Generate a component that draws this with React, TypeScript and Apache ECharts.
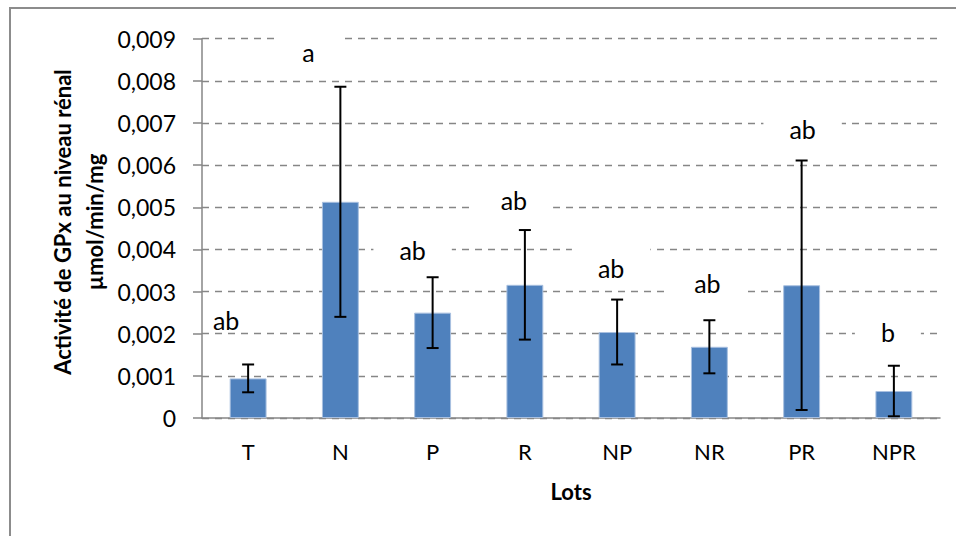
import React, { useEffect, useRef } from "react";
import * as echarts from "echarts";

const categories = ["T", "N", "P", "R", "NP", "NR", "PR", "NPR"];
const means = [0.00094, 0.00513, 0.0025, 0.00316, 0.00204, 0.00169, 0.00315, 0.00064];
const errors = [0.00033, 0.00273, 0.00084, 0.0013, 0.00077, 0.00063, 0.00296, 0.0006];
const letters = ["ab", "a", "ab", "ab", "ab", "ab", "ab", "b"];
const letterValues = [0.00232, 0.00868, 0.00399, 0.00517, 0.00356, 0.0032, 0.00686, 0.00204];

const yMin = 0;
const yMax = 0.009;
const yInterval = 0.001;

// layout tweaks for the letter annotations (pixel offsets from category centre)
const letterDx = [-22, -32, -20, -11, -6, -2, 1, -6];

const FONT = "Lato, 'Open Sans', sans-serif";

export default function App() {
  const ref = useRef<HTMLDivElement>(null);
  useEffect(() => {
    document.body.style.margin = "0";
    const chart = echarts.init(ref.current!, null, { renderer: "svg" });
    const option: any = {
      animation: false,
      backgroundColor: "#ffffff",
      textStyle: { fontFamily: FONT },
      grid: { left: 202, right: 16, top: 38.7, bottom: 118, containLabel: false },
      graphic: [
        {
          type: "rect",
          silent: true,
          z: -10,
          shape: { x: 10, y: 8, width: 1000, height: 600 },
          style: { fill: "none", stroke: "#8c8c8c", lineWidth: 2 },
        },
        {
          type: "text",
          silent: true,
          x: 78,
          y: 222,
          rotation: Math.PI / 2,
          style: {
            text: "Activité de GPx au niveau rénal\nµmol/min/mg",
            font: `bold 22px ${FONT}`,
            fill: "#000",
            align: "center",
            verticalAlign: "middle",
            lineHeight: 32,
          },
        },
      ],
      xAxis: {
        type: "category",
        data: categories,
        name: "Lots",
        nameLocation: "middle",
        nameGap: 62,
        nameTextStyle: { fontFamily: FONT, fontSize: 22, fontWeight: "bold", color: "#000" },
        axisLine: { show: true, lineStyle: { color: "#868686", width: 1.5 } },
        axisTick: { show: false },
        axisLabel: { fontFamily: FONT, fontSize: 22, color: "#000", margin: 22 },
        splitLine: { show: false },
      },
      yAxis: {
        type: "value",
        min: yMin,
        max: yMax,
        interval: yInterval,
        axisLine: { show: true, lineStyle: { color: "#868686", width: 1.5 } },
        axisTick: { show: true, inside: false, length: 9, lineStyle: { color: "#868686", width: 1.5 } },
        axisLabel: {
          fontFamily: FONT,
          fontSize: 23,
          color: "#000",
          margin: 26,
          formatter: (v: number) => (v === 0 ? "0" : v.toFixed(3).replace(".", ",")),
        },
        splitLine: {
          show: true,
          lineStyle: { color: "#868686", width: 1.4, type: [7, 6] },
        },
      },
      series: [
        {
          type: "bar",
          data: means,
          barWidth: "40%",
          itemStyle: { color: "#4F81BD", borderColor: "#a9c0e0", borderWidth: 1 },
          z: 2,
        },
        {
          type: "scatter",
          symbolSize: 1,
          itemStyle: { opacity: 0 },
          z: 3,
          label: {
            show: true,
            position: "inside",
            formatter: (p: any) => letters[p.dataIndex],
            fontFamily: FONT,
            fontSize: 25,
            color: "#000000",
            opacity: 1,
            lineHeight: 26,
          },
          data: letterValues.map((v, i) => ({
            value: [i, v],
            label: {
              offset: [letterDx[i], 0],
              backgroundColor: i === 0 ? "transparent" : "#ffffff",
              padding: i === 1 ? [8, 25] : [8, 26],
            },
          })),
        },
        {
          type: "custom",
          z: 4,
          data: means.map((m, i) => [i, m - errors[i], m + errors[i]]),
          renderItem: (params: any, api: any) => {
            const x = api.value(0);
            const lo = api.coord([x, api.value(1)]);
            const hi = api.coord([x, api.value(2)]);
            const hw = 6;
            const st = { stroke: "#000", lineWidth: 2 };
            return {
              type: "group",
              children: [
                { type: "line", shape: { x1: lo[0], y1: lo[1], x2: hi[0], y2: hi[1] }, style: st },
                { type: "line", shape: { x1: lo[0] - hw, y1: lo[1], x2: lo[0] + hw, y2: lo[1] }, style: st },
                { type: "line", shape: { x1: hi[0] - hw, y1: hi[1], x2: hi[0] + hw, y2: hi[1] }, style: st },
              ],
            };
          },
        },
      ],
    };
    chart.setOption(option);
    return () => chart.dispose();
  }, []);
  return <div ref={ref} style={{ width: 956, height: 536 }} />;
}
